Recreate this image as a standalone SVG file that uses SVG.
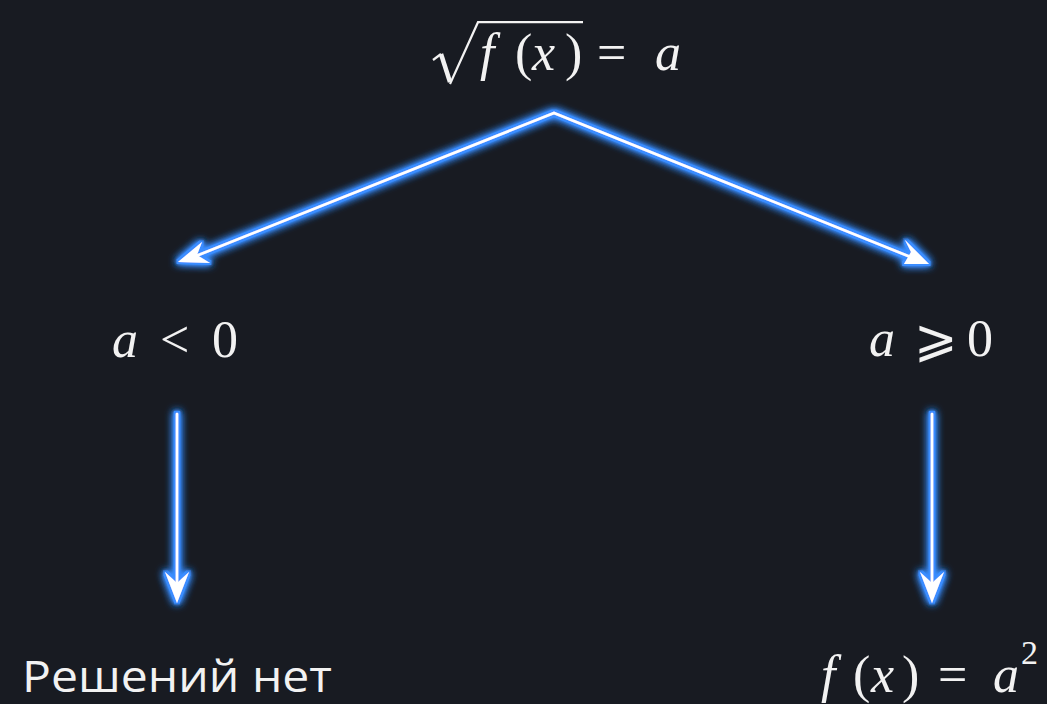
<svg xmlns="http://www.w3.org/2000/svg" width="1047" height="704" viewBox="0 0 1047 704">
<defs>
<style>
.m{font-family:"Liberation Serif","DejaVu Serif",serif;font-size:52px;fill:#f2f2f2}
.i{font-style:italic}
.t{font-family:"Open Sans","Noto Sans",sans-serif;font-size:43px;fill:#f2f2f2}
.ln{fill:none;stroke:#ffffff;stroke-width:2.6;stroke-linecap:round}
.hd{fill:#ffffff;stroke:none}
.rad{fill:none;stroke:#f2f2f2;stroke-linejoin:miter;stroke-linecap:butt}
</style>
<filter id="glow" x="-10%" y="-10%" width="120%" height="120%">
<feMorphology in="SourceAlpha" operator="dilate" radius="1.8" result="d"/>
<feFlood flood-color="#3a8dff" result="c"/>
<feComposite in="c" in2="d" operator="in" result="edge"/>
<feGaussianBlur in="edge" stdDeviation="4" result="halo"/>
<feGaussianBlur in="edge" stdDeviation="1.5" result="halo2"/>
<feMerge><feMergeNode in="halo"/><feMergeNode in="halo"/><feMergeNode in="halo2"/><feMergeNode in="edge"/><feMergeNode in="SourceGraphic"/></feMerge>
</filter>
</defs>
<rect width="1047" height="704" fill="#181b22"/>
<g id="connectors" filter="url(#glow)">
<path class="ln" d="M554,113 L196,256"/>
<path class="hd" d="M178,262 L202,242 L197,255 L210,263 Z"/>
<path class="ln" d="M554,113 L913,258"/>
<path class="hd" d="M929,264 L904,264 L911,252 L905,240 Z"/>
<path class="ln" d="M177,414 L177,585"/>
<path class="hd" d="M177,603 L165,572 L177,583 L189,572 Z"/>
<path class="ln" d="M932,414 L932,585"/>
<path class="hd" d="M932,603 L920,572 L932,583 L944,572 Z"/>
</g>
<g id="top">
<path class="rad" stroke-width="2.2" d="M433,60 L441,54"/>
<path class="rad" stroke-width="4.5" d="M441,54 L450,82"/>
<path class="rad" stroke-width="2.2" d="M450,84 L478,22.2 L583,22.2"/>
<text class="m" y="70"><tspan class="i" x="480">f</tspan><tspan x="515">(</tspan><tspan class="i" x="532">x</tspan><tspan x="565">)</tspan><tspan x="597">=</tspan><tspan class="i" x="655">a</tspan></text>
</g>
<g id="left">
<text class="m" y="357"><tspan class="i" x="112">a</tspan><tspan x="160">&lt;</tspan><tspan x="212">0</tspan></text>
</g>
<g id="right">
<text class="m" y="356"><tspan class="i" x="869">a</tspan><tspan x="914">⩾</tspan><tspan x="967">0</tspan></text>
</g>
<g id="no-solutions">
<text class="t" x="22" y="692" textLength="310" lengthAdjust="spacingAndGlyphs">Решений нет</text>
</g>
<g id="result">
<text class="m" y="692"><tspan class="i" x="821">f</tspan><tspan x="853">(</tspan><tspan class="i" x="871">x</tspan><tspan x="902">)</tspan><tspan x="938">=</tspan><tspan class="i" x="993">a</tspan><tspan x="1021" dy="-28" font-size="34">2</tspan></text>
</g>
</svg>
